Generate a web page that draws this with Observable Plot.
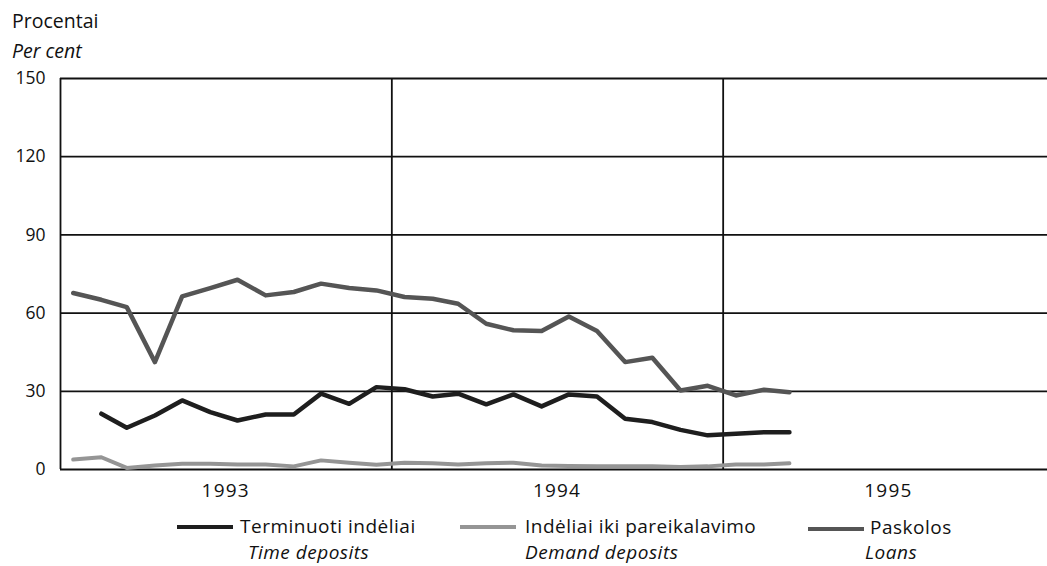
<!DOCTYPE html>
<html><head><meta charset="utf-8">
<script src="https://cdn.jsdelivr.net/npm/d3@7"></script>
<script src="https://cdn.jsdelivr.net/npm/@observablehq/plot@0.6"></script>
<style>
body{margin:0;background:#fff;font-family:"Open Sans",sans-serif;color:#111}
#wrap{position:relative;width:1047px;height:566px;overflow:hidden}
#chart{position:absolute;left:0;top:0}
.t{position:absolute;font-size:19.5px;white-space:nowrap;line-height:1}
.lg{font-size:19px;letter-spacing:0.5px}
.i{font-style:italic}
.sw{position:absolute;width:56px;height:4px}
</style></head>
<body><div id="wrap">
<div id="chart"></div>
<div class="t" style="left:12px;top:11px">Procentai</div>
<div class="t i" style="left:12px;top:41px">Per cent</div>

<div class="sw" style="left:177px;top:525px;background:#1e1e1e"></div>
<div class="t lg" style="left:240px;top:517px">Terminuoti indėliai</div>
<div class="t lg i" style="left:248px;top:543px">Time deposits</div>

<div class="sw" style="left:460px;top:525px;background:#959595"></div>
<div class="t lg" style="left:525px;top:517px">Indėliai iki pareikalavimo</div>
<div class="t lg i" style="left:525px;top:543px">Demand deposits</div>

<div class="sw" style="left:808px;top:527px;background:#555"></div>
<div class="t lg" style="left:870px;top:517.5px">Paskolos</div>
<div class="t lg i" style="left:865px;top:543px">Loans</div>
</div>
<script>
const months = ["1993-01","1993-02","1993-03","1993-04","1993-05","1993-06","1993-07","1993-08","1993-09","1993-10","1993-11","1993-12",
"1994-01","1994-02","1994-03","1994-04","1994-05","1994-06","1994-07","1994-08","1994-09","1994-10","1994-11","1994-12",
"1995-01","1995-02","1995-03"];
const loans = [67.7,65.1,62.3,41.2,66.4,69.6,72.8,66.8,68.1,71.3,69.6,68.7,
66.2,65.5,63.6,55.9,53.4,53.1,58.7,53.1,41.2,42.9,30.3,32.1,
28.4,30.6,29.6];
const timeDeposits = [null,21.4,16.0,20.7,26.5,22.0,18.8,21.1,21.1,29.1,25.2,31.6,
30.8,28.0,29.1,25.0,28.8,24.2,28.8,28.0,19.5,18.2,15.2,13.1,
13.7,14.3,14.3];
const demandDeposits = [3.8,4.7,0.6,1.5,2.2,2.2,1.9,1.9,1.2,3.5,2.6,1.8,
2.6,2.4,1.9,2.4,2.6,1.5,1.3,1.2,1.2,1.2,1.0,1.2,
1.9,1.9,2.4];
const yTicks = [0,30,60,90,120,150];
const years = ["1993","1994","1995"];

const toRows = arr => months.map((m,i)=>({date:new Date(m+"-15T00:00:00Z"), v:arr[i]})).filter(d=>d.v!=null);
const yearStarts = years.map(y=>new Date(y+"-01-01T00:00:00Z"));
const yearMids = years.map(y=>new Date(y+"-07-02T00:00:00Z"));

const chart = Plot.plot({
  width:1047, height:510,
  marginTop:78, marginBottom:41, marginLeft:60, marginRight:0,
  x:{type:"utc", domain:[new Date("1993-01-01T00:00:00Z"), new Date("1996-01-01T00:00:00Z")], range:[60,1054]},
  y:{domain:[0,150]},
  style:{fontFamily:"Open Sans, sans-serif", fontSize:"17.5px", color:"#111", background:"transparent", overflow:"visible"},
  marks:[
    Plot.ruleY(yTicks,{stroke:"#111",strokeWidth:1.8}),
    Plot.ruleX(yearStarts,{y1:0,y2:150,stroke:"#111",strokeWidth:1.8}),
    Plot.axisY({ticks:yTicks,tickSize:0,tickPadding:15,label:null}),
    Plot.axisX({ticks:yearMids,tickSize:0,tickPadding:14,label:null,fontSize:19,tickFormat:(d,i)=>years[i]}),
    Plot.line(toRows(demandDeposits),{x:"date",y:"v",stroke:"#959595",strokeWidth:4,strokeLinejoin:"round"}),
    Plot.line(toRows(timeDeposits),{x:"date",y:"v",stroke:"#1e1e1e",strokeWidth:4.5,strokeLinejoin:"round"}),
    Plot.line(toRows(loans),{x:"date",y:"v",stroke:"#555",strokeWidth:4.5,strokeLinejoin:"round"})
  ]
});
d3.select(chart).selectAll('[aria-label="x-axis tick label"] text').attr("letter-spacing","1.2px");
document.getElementById("chart").appendChild(chart);
</script>
</body></html>
